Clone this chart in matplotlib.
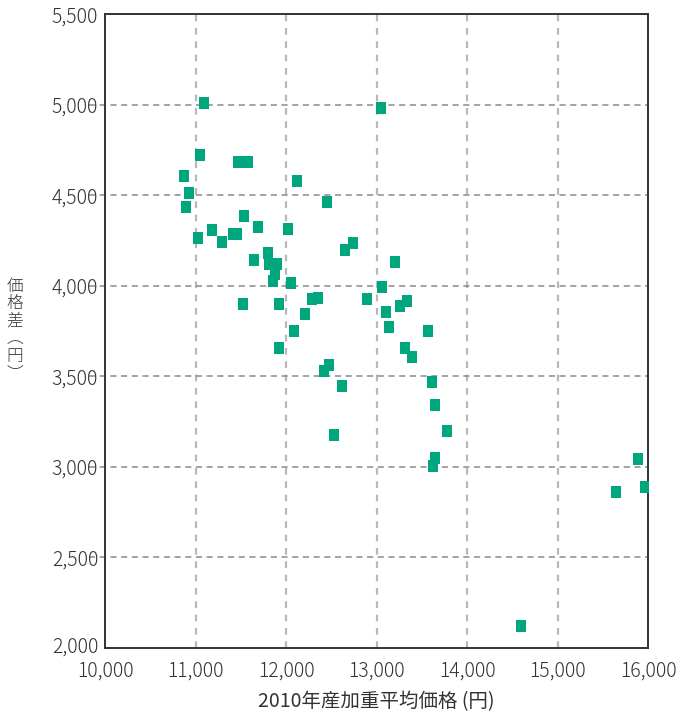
import matplotlib
matplotlib.use("Agg")
import matplotlib.pyplot as plt
from matplotlib.ticker import FuncFormatter
from matplotlib.transforms import ScaledTranslation

plt.rcParams['font.family'] = ['Noto Sans CJK JP', 'DejaVu Sans']
plt.rcParams['font.weight'] = 'light'

# 2010年産加重平均価格 (円)
price = [11090, 13050, 11050, 11470, 11575, 10873, 12122, 10928, 12453, 10895,
         11536, 11691, 11182, 12022, 11414, 11459, 11028, 11293, 12740, 12652,
         11801, 11646, 13204, 11812, 11901, 11878, 11856, 12055, 13061, 12287,
         12354, 12895, 13337, 11525, 11923, 13260, 13105, 12210, 13138, 13569,
         12088, 11923, 13315, 13392, 12475, 12420, 13613, 12619, 13646, 13779,
         12530, 13646, 13624, 15890, 15961, 15641, 14591]
# 価格差 (円)
diff = [5010, 4980, 4720, 4685, 4685, 4605, 4577, 4511, 4461, 4434,
        4384, 4323, 4306, 4312, 4284, 4284, 4262, 4240, 4234, 4196,
        4179, 4141, 4129, 4118, 4118, 4063, 4024, 4013, 3991, 3925,
        3930, 3925, 3914, 3897, 3897, 3886, 3853, 3842, 3775, 3753,
        3748, 3654, 3654, 3604, 3560, 3532, 3471, 3444, 3344, 3195,
        3178, 3051, 3007, 3045, 2887, 2859, 2119]

xticks = [10000, 11000, 12000, 13000, 14000, 15000, 16000]
yticks = [2000, 2500, 3000, 3500, 4000, 4500, 5000, 5500]

fig = plt.figure(figsize=(6.78, 7.15), dpi=100)
ax = fig.add_axes([0.155, 0.094, 0.801, 0.886])

# rectangular marker, a bit taller than wide
rect = [(-5, -6), (5, -6), (5, 6), (-5, 6), (-5, -6)]
ax.plot(price, diff, linestyle='none', marker=rect, markersize=8.6,
        markeredgewidth=0, color='#00A67D', zorder=3)

ax.set_xlim(10000, 16000)
ax.set_ylim(2000, 5500)
ax.set_xticks(xticks)
ax.set_yticks(yticks)
fmt = FuncFormatter(lambda v, p: f"{int(v):,}")
ax.xaxis.set_major_formatter(fmt)
ax.yaxis.set_major_formatter(fmt)
ax.tick_params(length=0, labelsize=14, colors='#333333', pad=5)
ax.tick_params(axis='x', pad=9)
# nudge the bottom y label up a few pixels so it clears 10,000
lab = ax.yaxis.get_major_ticks()[0].label1
lab.set_transform(lab.get_transform() + ScaledTranslation(0, 3 / 100, fig.dpi_scale_trans))

# grid
for xv in xticks[1:-1]:
    ax.axvline(xv, color='#b8b8b8', lw=1.6, ls=(0, (3, 3)), zorder=1)
for yv in yticks[1:-1]:
    ax.axhline(yv, xmin=-0.03, xmax=1, color='#8a8a8a', lw=1.1,
               ls=(0, (4, 3)), zorder=1, clip_on=False)

for s in ax.spines.values():
    s.set_color('#333333')
    s.set_linewidth(1.4)

ax.set_xlabel('2010年産加重平均価格 (円)', fontsize=14, color='#333333', labelpad=7)
fig.text(0.022, 0.538, '価\n格\n差\n︵\n円\n︶', fontsize=12, color='#333333',
         ha='center', va='center', linespacing=1.05)

fig.savefig('out.png', dpi=100)
